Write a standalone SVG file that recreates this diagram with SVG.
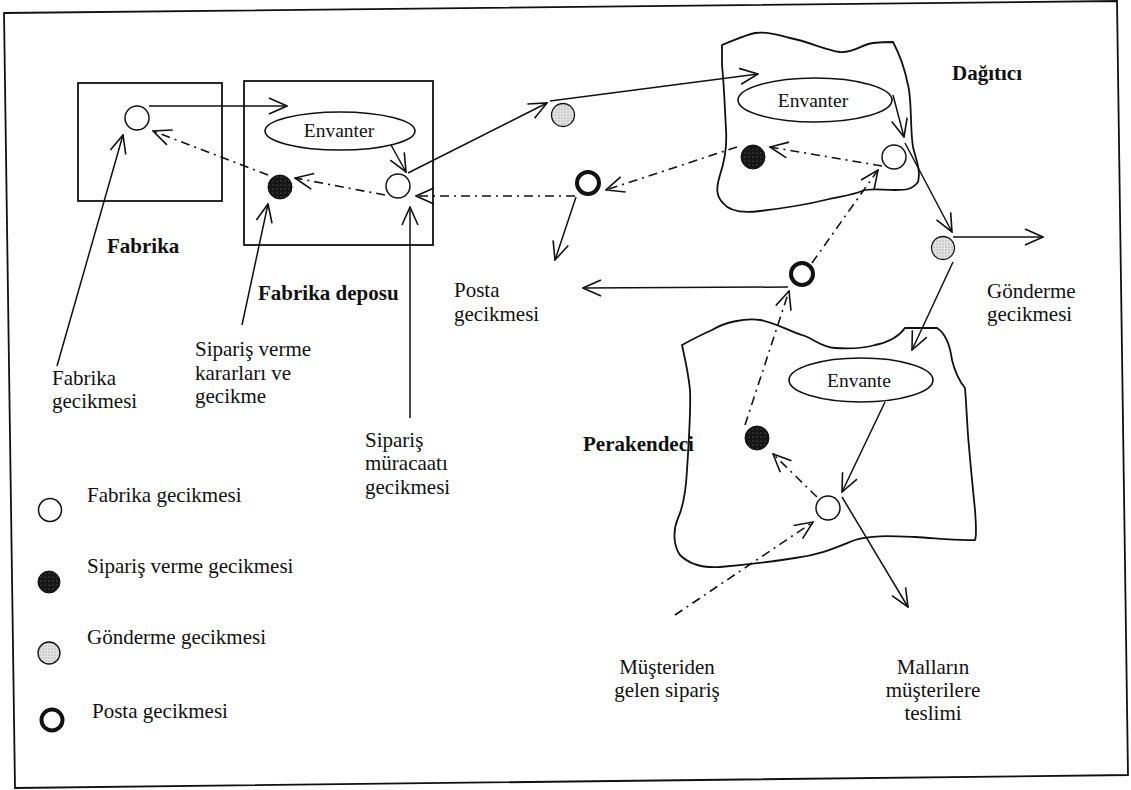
<svg xmlns="http://www.w3.org/2000/svg" width="1131" height="790" viewBox="0 0 1131 790">
<style>
text{font-family:"Liberation Serif","Times New Roman",serif;font-size:21px;fill:#111}
.b{font-weight:bold}
.e{font-size:19.5px;text-anchor:middle}
.m{text-anchor:middle}
.box{fill:none;stroke:#111;stroke-width:1.8}
.blob{fill:none;stroke:#111;stroke-width:1.8}
.ell{fill:#fff;stroke:#111;stroke-width:1.6}
.w{fill:#fff;stroke:#111;stroke-width:1.5}
.d{fill:url(#darkDots);stroke:#111;stroke-width:1}
.g{fill:url(#grayDots);stroke:#111;stroke-width:1.3}
.p{fill:none;stroke:#111;stroke-width:4}
.s{fill:none;stroke:#111;stroke-width:1.5;marker-end:url(#arr)}
.dd{fill:none;stroke:#111;stroke-width:1.6;stroke-dasharray:9 5 2 5;marker-end:url(#arr)}
</style>
<defs>
<marker id="arr" viewBox="0 0 20 20" refX="19" refY="10" markerWidth="20" markerHeight="20" markerUnits="userSpaceOnUse" orient="auto">
<path d="M1,2 L19,10 L1,18" fill="none" stroke="#111" stroke-width="1.6"/>
</marker>
<pattern id="darkDots" patternUnits="userSpaceOnUse" width="4" height="4">
<rect width="4" height="4" fill="#151515"/>
<circle cx="1" cy="1" r="0.6" fill="#777"/>
</pattern>
<pattern id="grayDots" patternUnits="userSpaceOnUse" width="3" height="3">
<rect width="3" height="3" fill="#e2e2e2"/>
<circle cx="1" cy="1" r="0.6" fill="#888"/>
</pattern>
</defs>
<rect width="1131" height="790" fill="#fff"/>
<polygon id="frame" points="4,13 1117,1 1128,775 15,788" fill="none" stroke="#111" stroke-width="1.8"/>

<g id="fabrika">
<rect class="box" x="78" y="83" width="144" height="118"/>
<circle class="w" cx="137" cy="118" r="12"/>
<text class="b" x="107" y="253">Fabrika</text>
</g>

<g id="fabrika-deposu">
<rect class="box" x="244" y="81" width="189" height="164"/>
<ellipse class="ell" cx="340" cy="131" rx="75" ry="19"/>
<text class="e" x="339" y="137">Envanter</text>
<circle class="d" cx="280" cy="187" r="12"/>
<circle class="w" cx="398" cy="186" r="12"/>
<text class="b" x="258" y="300">Fabrika deposu</text>
</g>

<g id="dagitici">
<path class="blob" d="M722,45 C735,40 745,35 755,33 C770,31 780,36 790,38 C810,42 825,50 840,52 C855,53 862,44 873,43 C882,42 888,42 893,42 C900,55 905,70 908,85 C912,100 910,130 913,147 C916,160 921,170 918,182 C912,190 905,190 895,190 C880,190 870,188 862,191 C850,196 840,196 825,200 C805,205 785,208 760,211 C745,213 730,212 723,203 C716,196 716,188 720,175 C725,160 727,145 726,130 C725,110 724,85 722,65 Z"/>
<ellipse class="ell" cx="815" cy="100" rx="77" ry="22"/>
<text class="e" x="813" y="107">Envanter</text>
<circle class="d" cx="753" cy="157" r="12"/>
<circle class="w" cx="894" cy="157" r="12"/>
<text class="b" x="952" y="80">Dağıtıcı</text>
</g>

<g id="perakendeci">
<path class="blob" d="M682,345 C695,338 705,333 712,330 C725,322 745,318 760,320 C775,322 790,332 805,336 C815,340 822,347 835,348 C850,349 865,348 875,345 C890,342 900,335 905,328 L937,328 C945,333 950,345 952,360 C955,372 960,382 965,388 C966,400 967,420 968,435 C970,460 973,490 975,510 C976,525 977,535 975,540 C955,541 935,538 915,537 C890,536 870,535 855,540 C835,548 820,555 795,558 C770,562 745,565 720,567 C705,568 690,565 680,555 C673,545 673,530 678,518 C684,505 686,490 687,470 C689,440 691,410 690,390 C688,370 684,355 682,345 Z"/>
<ellipse class="ell" cx="861" cy="380" rx="72" ry="22"/>
<text class="e" x="859" y="387">Envante</text>
<circle class="d" cx="757" cy="438" r="12"/>
<circle class="w" cx="828" cy="508" r="12"/>
<text class="b" x="583" y="451">Perakendeci</text>
</g>

<g id="shipping-1"><circle class="g" cx="563" cy="115" r="11.5"/></g>
<g id="mail-1"><circle class="p" cx="588" cy="183" r="11"/></g>
<g id="shipping-2"><circle class="g" cx="943" cy="248" r="11.5"/></g>
<g id="mail-2"><circle class="p" cx="802" cy="274" r="11"/></g>

<g id="connectors">
<path class="s" d="M149,106 L287,106"/>
<path class="s" d="M391,145 L406,172"/>
<path class="dd" d="M385,195 L295,178"/>
<path class="dd" d="M268,175 L153,131"/>
<path class="s" d="M57,366 L123,135"/>
<path class="s" d="M242,325 L268,204"/>
<path class="s" d="M410,418 L410,207"/>
<path class="s" d="M408,173 L547,103"/>
<path class="s" d="M550,101 L758,74"/>
<path class="s" d="M893,95 L904,137"/>
<path class="dd" d="M882,166 L770,147"/>
<path class="dd" d="M737,147 L606,190"/>
<path class="dd" d="M575,196 L416,196"/>
<path class="s" d="M576,197 L555,260"/>
<path class="s" d="M905,143 L952,232"/>
<path class="s" d="M953,237 L1043,237"/>
<path class="s" d="M953,262 L912,350"/>
<path class="s" d="M788,287 L583,288"/>
<path class="dd" d="M812,263 L878,170"/>
<path class="dd" d="M745,425 L789,291"/>
<path class="s" d="M885,402 L842,492"/>
<path class="dd" d="M817,497 L773,454"/>
<path class="dd" d="M675,615 L813,522"/>
<path class="s" d="M842,497 L908,607"/>
</g>

<g id="labels">
<text x="52" y="385">Fabrika</text>
<text x="52" y="408">gecikmesi</text>
<text x="195" y="356">Sipariş verme</text>
<text x="195" y="380">kararları ve</text>
<text x="195" y="403">gecikme</text>
<text x="365" y="447">Sipariş</text>
<text x="365" y="470">müracaatı</text>
<text x="365" y="494">gecikmesi</text>
<text x="454" y="297">Posta</text>
<text x="454" y="321">gecikmesi</text>
<text x="987" y="298">Gönderme</text>
<text x="987" y="321">gecikmesi</text>
<text class="m" x="667" y="674">Müşteriden</text>
<text class="m" x="667" y="697">gelen sipariş</text>
<text class="m" x="933" y="674">Malların</text>
<text class="m" x="933" y="697">müşterilere</text>
<text class="m" x="933" y="720">teslimi</text>
</g>

<g id="legend">
<circle class="w" cx="50" cy="510" r="11.5"/>
<text x="87" y="502">Fabrika gecikmesi</text>
<circle class="d" cx="49" cy="582" r="11"/>
<text x="87" y="573">Sipariş verme gecikmesi</text>
<circle class="g" cx="49" cy="653" r="11"/>
<text x="87" y="644">Gönderme gecikmesi</text>
<circle class="p" cx="52" cy="720" r="10.5"/>
<text x="92" y="718">Posta gecikmesi</text>
</g>
</svg>
